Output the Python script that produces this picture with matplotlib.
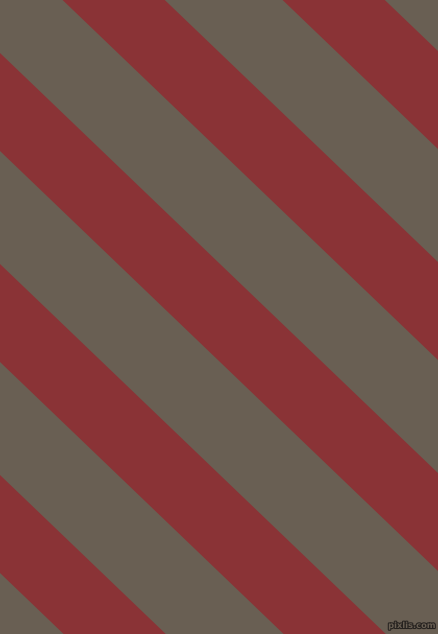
import matplotlib
matplotlib.use("Agg")
import numpy as np
import matplotlib.pyplot as plt
import matplotlib.patheffects as pe

# canvas size in pixels
width_px = 438
height_px = 634

# stripe lines: y = slope * x + intercept (image coords, y down)
slope = 0.959
red_top = [-369, -158, 53, 264, 475]
red_bottom = [-271, -60, 151, 362, 573]

gray = "#695f53"
red = "#8a3336"

fig = plt.figure(figsize=(width_px / 100, height_px / 100), dpi=100)
ax = fig.add_axes([0, 0, 1, 1])
ax.set_facecolor(gray)
fig.patch.set_facecolor(gray)

x = np.array([0, width_px])
for top, bottom in zip(red_top, red_bottom):
    ax.fill_between(x, slope * x + top, slope * x + bottom,
                    color=red, linewidth=0)

ax.set_xlim(0, width_px)
ax.set_ylim(height_px, 0)
ax.axis("off")

# watermark
ax.text(436, 630, "pixlis.com", ha="right", va="bottom", fontsize=6,
        fontweight="bold", color=gray,
        path_effects=[pe.withStroke(linewidth=1.5, foreground="#26221f")])

fig.savefig("out.png", dpi=100, facecolor=gray)
